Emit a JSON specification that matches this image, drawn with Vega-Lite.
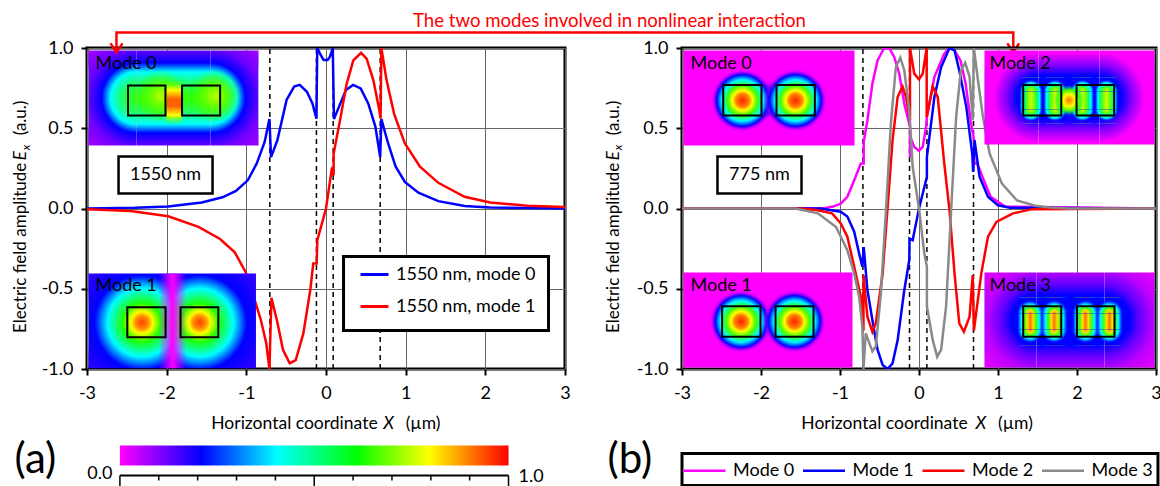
{"$schema":"https://vega.github.io/schema/vega-lite/v6.json","padding":{"left":10,"top":10,"right":0,"bottom":0},"background":"white","bounds":"flush","spacing":117,"resolve":{"scale":{"color":"independent","strokeWidth":"independent"},"legend":{"color":"independent"}},"config":{"font":"Lato","view":{"stroke":"#000","strokeWidth":3},"legend":{"strokeColor":"transparent","fillColor":"transparent","labelFontSize":18,"labelColor":"#000","symbolType":"stroke","symbolStrokeWidth":3,"titleLimit":0,"labelLimit":0},"axis":{"labelFontSize":18,"labelColor":"#000","tickColor":"#000","tickWidth":2,"tickSize":6,"domain":false,"grid":true,"gridColor":"#666","gridWidth":1,"title":null,"labelOverlap":false,"labelFlush":false}},"hconcat":[{"width":478,"height":321,"encoding":{"x":{"field":"x","type":"quantitative","scale":{"domain":[-3,3],"nice":false},"axis":{"values":[-3,-2,-1,0,1,2,3],"labelPadding":9,"format":"d","labelExpr":"replace(datum.label,'−','-')"}},"y":{"field":"y","type":"quantitative","scale":{"domain":[-1,1],"nice":false},"axis":{"values":[-1,-0.5,0,0.5,1],"labelPadding":8,"format":".1f","labelExpr":"replace(datum.label,'−','-')"}}},"layer":[{"data":{"values":[{"x":-0.705,"y":-1,"y2":1},{"x":-0.12,"y":-1,"y2":1},{"x":0.09,"y":-1,"y2":1},{"x":0.68,"y":-1,"y2":1}]},"mark":{"type":"rule","stroke":"#000","strokeWidth":1.5,"strokeDash":[5,4]},"encoding":{"y2":{"field":"y2"}}},{"data":{"values":[{"series":"1550 nm, mode 0","x":-3,"y":0},{"series":"1550 nm, mode 0","x":-2.4,"y":0.004},{"series":"1550 nm, mode 0","x":-1.98,"y":0.012},{"series":"1550 nm, mode 0","x":-1.56,"y":0.037},{"series":"1550 nm, mode 0","x":-1.3,"y":0.07},{"series":"1550 nm, mode 0","x":-1.13,"y":0.11},{"series":"1550 nm, mode 0","x":-0.98,"y":0.177},{"series":"1550 nm, mode 0","x":-0.87,"y":0.28},{"series":"1550 nm, mode 0","x":-0.77,"y":0.415},{"series":"1550 nm, mode 0","x":-0.71,"y":0.557},{"series":"1550 nm, mode 0","x":-0.69,"y":0.32},{"series":"1550 nm, mode 0","x":-0.61,"y":0.426},{"series":"1550 nm, mode 0","x":-0.495,"y":0.676},{"series":"1550 nm, mode 0","x":-0.4,"y":0.76},{"series":"1550 nm, mode 0","x":-0.33,"y":0.77},{"series":"1550 nm, mode 0","x":-0.24,"y":0.727},{"series":"1550 nm, mode 0","x":-0.17,"y":0.655},{"series":"1550 nm, mode 0","x":-0.12,"y":0.56},{"series":"1550 nm, mode 0","x":-0.11,"y":1},{"series":"1550 nm, mode 0","x":-0.077,"y":0.967},{"series":"1550 nm, mode 0","x":-0.03,"y":0.925},{"series":"1550 nm, mode 0","x":0.02,"y":0.925},{"series":"1550 nm, mode 0","x":0.05,"y":0.946},{"series":"1550 nm, mode 0","x":0.085,"y":1},{"series":"1550 nm, mode 0","x":0.1,"y":0.557},{"series":"1550 nm, mode 0","x":0.18,"y":0.655},{"series":"1550 nm, mode 0","x":0.25,"y":0.738},{"series":"1550 nm, mode 0","x":0.34,"y":0.77},{"series":"1550 nm, mode 0","x":0.435,"y":0.748},{"series":"1550 nm, mode 0","x":0.53,"y":0.655},{"series":"1550 nm, mode 0","x":0.62,"y":0.51},{"series":"1550 nm, mode 0","x":0.68,"y":0.32},{"series":"1550 nm, mode 0","x":0.695,"y":0.557},{"series":"1550 nm, mode 0","x":0.78,"y":0.405},{"series":"1550 nm, mode 0","x":0.875,"y":0.26},{"series":"1550 nm, mode 0","x":0.99,"y":0.166},{"series":"1550 nm, mode 0","x":1.16,"y":0.098},{"series":"1550 nm, mode 0","x":1.41,"y":0.046},{"series":"1550 nm, mode 0","x":1.74,"y":0.015},{"series":"1550 nm, mode 0","x":2.06,"y":0.006},{"series":"1550 nm, mode 0","x":3,"y":0},{"series":"1550 nm, mode 1","x":-3,"y":-0.005},{"series":"1550 nm, mode 1","x":-2.45,"y":-0.015},{"series":"1550 nm, mode 1","x":-1.98,"y":-0.048},{"series":"1550 nm, mode 1","x":-1.6,"y":-0.114},{"series":"1550 nm, mode 1","x":-1.33,"y":-0.19},{"series":"1550 nm, mode 1","x":-1.145,"y":-0.273},{"series":"1550 nm, mode 1","x":-1.005,"y":-0.4},{"series":"1550 nm, mode 1","x":-0.91,"y":-0.546},{"series":"1550 nm, mode 1","x":-0.82,"y":-0.69},{"series":"1550 nm, mode 1","x":-0.75,"y":-0.84},{"series":"1550 nm, mode 1","x":-0.71,"y":-1},{"series":"1550 nm, mode 1","x":-0.685,"y":-0.557},{"series":"1550 nm, mode 1","x":-0.61,"y":-0.71},{"series":"1550 nm, mode 1","x":-0.54,"y":-0.88},{"series":"1550 nm, mode 1","x":-0.455,"y":-0.965},{"series":"1550 nm, mode 1","x":-0.38,"y":-0.945},{"series":"1550 nm, mode 1","x":-0.285,"y":-0.78},{"series":"1550 nm, mode 1","x":-0.197,"y":-0.508},{"series":"1550 nm, mode 1","x":-0.16,"y":-0.342},{"series":"1550 nm, mode 1","x":-0.117,"y":-0.342},{"series":"1550 nm, mode 1","x":-0.109,"y":-0.197},{"series":"1550 nm, mode 1","x":0,"y":0},{"series":"1550 nm, mode 1","x":0.07,"y":0.238},{"series":"1550 nm, mode 1","x":0.096,"y":0.207},{"series":"1550 nm, mode 1","x":0.096,"y":0.342},{"series":"1550 nm, mode 1","x":0.176,"y":0.55},{"series":"1550 nm, mode 1","x":0.26,"y":0.778},{"series":"1550 nm, mode 1","x":0.343,"y":0.923},{"series":"1550 nm, mode 1","x":0.44,"y":0.97},{"series":"1550 nm, mode 1","x":0.51,"y":0.934},{"series":"1550 nm, mode 1","x":0.594,"y":0.8},{"series":"1550 nm, mode 1","x":0.67,"y":0.612},{"series":"1550 nm, mode 1","x":0.685,"y":0.56},{"series":"1550 nm, mode 1","x":0.695,"y":1},{"series":"1550 nm, mode 1","x":0.76,"y":0.8},{"series":"1550 nm, mode 1","x":0.855,"y":0.59},{"series":"1550 nm, mode 1","x":0.99,"y":0.405},{"series":"1550 nm, mode 1","x":1.18,"y":0.26},{"series":"1550 nm, mode 1","x":1.41,"y":0.16},{"series":"1550 nm, mode 1","x":1.74,"y":0.073},{"series":"1550 nm, mode 1","x":2.06,"y":0.037},{"series":"1550 nm, mode 1","x":2.53,"y":0.017},{"series":"1550 nm, mode 1","x":3,"y":0.01}]},"mark":{"type":"line","strokeWidth":2.5,"clip":true},"encoding":{"order":{"value":null},"color":{"field":"series","type":"nominal","scale":{"domain":["1550 nm, mode 0","1550 nm, mode 1"],"range":["#0000ff","#ff0000"]},"legend":{"title":null,"orient":"none","legendX":272,"legendY":211,"padding":0,"rowPadding":7,"symbolSize":784,"labelOffset":6}}}},{"data":{"values":[{"x":0.22,"x2":2.793,"y":-0.299,"y2":-0.76}]},"mark":{"type":"rect","fill":"#fff","stroke":"#000","strokeWidth":3},"encoding":{"x2":{"field":"x2"},"y2":{"field":"y2"}}},{"data":{"values":[{"x":-2.981,"x2":-2.377,"y":0.984,"y2":0.393}]},"mark":{"type":"rect","fill":{"gradient":"radial","x1":0.753,"y1":0.5,"r1":0,"x2":0.753,"y2":0.5,"r2":0.75,"stops":[{"offset":0,"color":"#30ff00"},{"offset":0.2,"color":"#20ff60"},{"offset":0.366,"color":"#00ffff"},{"offset":0.49,"color":"#0000ff"},{"offset":0.7,"color":"#7000ff"},{"offset":1,"color":"#b000ff"}]}},"encoding":{"x2":{"field":"x2"},"y2":{"field":"y2"}}},{"data":{"values":[{"x":-1.45,"x2":-0.847,"y":0.984,"y2":0.393}]},"mark":{"type":"rect","fill":{"gradient":"radial","x1":0.247,"y1":0.5,"r1":0,"x2":0.247,"y2":0.5,"r2":0.75,"stops":[{"offset":0,"color":"#30ff00"},{"offset":0.2,"color":"#20ff60"},{"offset":0.366,"color":"#00ffff"},{"offset":0.49,"color":"#0000ff"},{"offset":0.7,"color":"#7000ff"},{"offset":1,"color":"#b000ff"}]}},"encoding":{"x2":{"field":"x2"},"y2":{"field":"y2"}}},{"data":{"values":[{"x":-2.377,"x2":-1.45,"y":0.984,"y2":0.393}]},"mark":{"type":"rect","fill":{"gradient":"linear","x1":0,"y1":0,"x2":0,"y2":1,"stops":[{"offset":0,"color":"#6000ff"},{"offset":0.13,"color":"#0000ff"},{"offset":0.226,"color":"#00ffff"},{"offset":0.353,"color":"#20ff60"},{"offset":0.5,"color":"#30ff00"},{"offset":0.647,"color":"#20ff60"},{"offset":0.774,"color":"#00ffff"},{"offset":0.87,"color":"#0000ff"},{"offset":1,"color":"#6000ff"}]}},"encoding":{"x2":{"field":"x2"},"y2":{"field":"y2"}}},{"data":{"values":[{"x":-2.45,"x2":-1.7,"y":0.93,"y2":0.47},{"x":-1.77,"x2":-1.02,"y":0.93,"y2":0.47}]},"mark":{"type":"rect","fill":{"gradient":"radial","x1":0.5,"y1":0.5,"r1":0,"x2":0.5,"y2":0.5,"r2":0.36,"stops":[{"offset":0,"color":"#b8ff00"},{"offset":0.4,"color":"#60ff00"},{"offset":1,"color":"rgba(48,255,0,0)"}]}},"encoding":{"x2":{"field":"x2"},"y2":{"field":"y2"}}},{"data":{"values":[{"x":-2.0,"x2":-1.81,"y":0.8,"y2":0.52}]},"mark":{"type":"rect","fill":{"gradient":"linear","x1":0,"y1":0,"x2":0,"y2":1,"stops":[{"offset":0,"color":"rgba(48,255,0,0)"},{"offset":0.22,"color":"#ffff00"},{"offset":0.42,"color":"#ff6000"},{"offset":0.58,"color":"#ff6000"},{"offset":0.78,"color":"#ffff00"},{"offset":1,"color":"rgba(48,255,0,0)"}]}},"encoding":{"x2":{"field":"x2"},"y2":{"field":"y2"}}},{"data":{"values":[{"x":-2.981,"x2":-1.927,"y":-0.405,"y2":-0.995}]},"mark":{"type":"rect","fill":{"gradient":"radial","x1":0.621,"y1":0.518,"r1":0,"x2":0.621,"y2":0.518,"r2":1,"stops":[{"offset":0,"color":"#ff4000"},{"offset":0.07,"color":"#ff9000"},{"offset":0.115,"color":"#ffff00"},{"offset":0.2,"color":"#20ff00"},{"offset":0.36,"color":"#00ffff"},{"offset":0.5,"color":"#0000ff"},{"offset":1,"color":"#6000ff"}]}},"encoding":{"x2":{"field":"x2"},"y2":{"field":"y2"}}},{"data":{"values":[{"x":-1.927,"x2":-0.879,"y":-0.405,"y2":-0.995}]},"mark":{"type":"rect","fill":{"gradient":"radial","x1":0.345,"y1":0.518,"r1":0,"x2":0.345,"y2":0.518,"r2":1,"stops":[{"offset":0,"color":"#ff4000"},{"offset":0.07,"color":"#ff9000"},{"offset":0.115,"color":"#ffff00"},{"offset":0.2,"color":"#20ff00"},{"offset":0.36,"color":"#00ffff"},{"offset":0.5,"color":"#0000ff"},{"offset":1,"color":"#6000ff"}]}},"encoding":{"x2":{"field":"x2"},"y2":{"field":"y2"}}},{"data":{"values":[{"x":-2.1,"x2":-1.75,"y":-0.405,"y2":-0.995}]},"mark":{"type":"rect","fill":{"gradient":"linear","x1":0,"y1":0,"x2":1,"y2":0,"stops":[{"offset":0,"color":"rgba(255,0,255,0)"},{"offset":0.5,"color":"#ff00ff"},{"offset":1,"color":"rgba(255,0,255,0)"}]}},"encoding":{"x2":{"field":"x2"},"y2":{"field":"y2"}}},{"data":{"values":[{"x":-2.485,"x2":-2.015,"y":0.766,"y2":0.579},{"x":-1.807,"x2":-1.329,"y":0.766,"y2":0.579},{"x":-2.494,"x2":-2.014,"y":-0.615,"y2":-0.802},{"x":-1.826,"x2":-1.352,"y":-0.615,"y2":-0.802}]},"mark":{"type":"rect","fill":null,"stroke":"#000","strokeWidth":2},"encoding":{"x2":{"field":"x2"},"y2":{"field":"y2"}}},{"data":{"values":[{"x":-2.604,"x2":-1.424,"y":0.324,"y2":0.093}]},"mark":{"type":"rect","fill":"#fff","stroke":"#000","strokeWidth":2.5},"encoding":{"x2":{"field":"x2"},"y2":{"field":"y2"}}},{"data":{"values":[{"x":-2.014,"y":0.209,"text":"1550 nm"}]},"mark":{"type":"text","fontSize":18,"align":"center","baseline":"middle","color":"#000"},"encoding":{"text":{"field":"text"}}},{"data":{"values":[{"x":-2.893,"y":0.903,"text":"Mode 0"},{"x":-2.893,"y":-0.48,"text":"Mode 1"}]},"mark":{"type":"text","fontSize":18,"align":"left","baseline":"middle","color":"#000"},"encoding":{"text":{"field":"text"}}},{"data":{"values":[{"x":-1.44,"y":-1.342,"text":"Horizontal coordinate "},{"x":1.0,"y":-1.342,"text":"(µm)"}]},"mark":{"type":"text","fontSize":17.5,"align":"left","baseline":"middle","color":"#000"},"encoding":{"text":{"field":"text"}}},{"data":{"values":[{"x":0.72,"y":-1.342,"text":"X"}]},"mark":{"type":"text","fontSize":17.5,"fontStyle":"italic","align":"left","baseline":"middle","color":"#000"},"encoding":{"text":{"field":"text"}}},{"data":{"values":[{"x":-3.823,"y":-0.776,"text":"Electric field amplitude "},{"x":-3.823,"y":0.456,"text":"(a.u.)"}]},"mark":{"type":"text","fontSize":17,"angle":270,"align":"left","baseline":"middle","color":"#000"},"encoding":{"text":{"field":"text"}}},{"data":{"values":[{"x":-3.823,"y":0.3,"text":"E"}]},"mark":{"type":"text","fontSize":17,"fontStyle":"italic","angle":270,"align":"left","baseline":"middle","color":"#000"},"encoding":{"text":{"field":"text"}}},{"data":{"values":[{"x":-3.76,"y":0.363,"text":"x"}]},"mark":{"type":"text","fontSize":12,"fontStyle":"italic","angle":270,"align":"left","baseline":"middle","color":"#000"},"encoding":{"text":{"field":"text"}}},{"data":{"values":[{"part":"path","x":-2.63,"y":0.973},{"part":"path","x":-2.63,"y":1.097},{"part":"path","x":8.627,"y":1.097},{"part":"path","x":8.627,"y":0.973},{"part":"headL","x":-2.705,"y":1.029},{"part":"headL","x":-2.63,"y":0.973},{"part":"headL","x":-2.554,"y":1.029},{"part":"headR","x":8.552,"y":1.029},{"part":"headR","x":8.627,"y":0.973},{"part":"headR","x":8.7,"y":1.029}]},"mark":{"type":"line","stroke":"#ff0000","strokeWidth":2.5,"clip":false},"encoding":{"detail":{"field":"part"},"order":{"value":null}}},{"data":{"values":[{"x":3.558,"y":1.171,"text":"The two modes involved in nonlinear interaction"}]},"mark":{"type":"text","fontSize":18.6,"align":"center","baseline":"middle","color":"#ff0000"},"encoding":{"text":{"field":"text"}}},{"data":{"values":[{"x":-2.587,"x2":2.291,"y":-1.477,"y2":-1.601}]},"mark":{"type":"rect","fill":{"gradient":"linear","x1":0,"y1":0,"x2":1,"y2":0,"stops":[{"offset":0,"color":"#ff00ff"},{"offset":0.21,"color":"#0000ff"},{"offset":0.405,"color":"#00ffff"},{"offset":0.61,"color":"#00ff00"},{"offset":0.795,"color":"#ffff00"},{"offset":1,"color":"#ff0000"}]}},"encoding":{"x2":{"field":"x2"},"y2":{"field":"y2"}}},{"data":{"values":[{"x":-2.587,"x2":2.291,"y":-1.664}]},"mark":{"type":"rule","stroke":"#000","strokeWidth":2},"encoding":{"x2":{"field":"x2"}}},{"data":{"values":[{"x":-2.587,"y":-1.664,"y2":-1.73},{"x":-2.099,"y":-1.664,"y2":-1.695},{"x":-1.611,"y":-1.664,"y2":-1.695},{"x":-1.123,"y":-1.664,"y2":-1.695},{"x":-0.635,"y":-1.664,"y2":-1.695},{"x":-0.148,"y":-1.664,"y2":-1.73},{"x":0.34,"y":-1.664,"y2":-1.695},{"x":0.828,"y":-1.664,"y2":-1.695},{"x":1.316,"y":-1.664,"y2":-1.695},{"x":1.803,"y":-1.664,"y2":-1.695},{"x":2.291,"y":-1.664,"y2":-1.73}]},"mark":{"type":"rule","stroke":"#000","strokeWidth":1.5},"encoding":{"y2":{"field":"y2"}}},{"data":{"values":[{"x":-2.68,"y":-1.657,"text":"0.0"}]},"mark":{"type":"text","fontSize":18,"align":"right","baseline":"middle","color":"#000"},"encoding":{"text":{"field":"text"}}},{"data":{"values":[{"x":2.416,"y":-1.67,"text":"1.0"}]},"mark":{"type":"text","fontSize":18,"align":"left","baseline":"middle","color":"#000"},"encoding":{"text":{"field":"text"}}},{"data":{"values":[{"x":-3.91,"y":-1.57,"text":"(a)"}]},"mark":{"type":"text","fontSize":42,"align":"left","baseline":"middle","color":"#000"},"encoding":{"text":{"field":"text"}}}]},{"width":474,"height":321,"encoding":{"x":{"field":"x","type":"quantitative","scale":{"domain":[-3,3],"nice":false},"axis":{"values":[-3,-2,-1,0,1,2,3],"labelPadding":9,"format":"d","labelExpr":"replace(datum.label,'−','-')"}},"y":{"field":"y","type":"quantitative","scale":{"domain":[-1,1],"nice":false},"axis":{"values":[-1,-0.5,0,0.5,1],"labelPadding":8,"format":".1f","labelExpr":"replace(datum.label,'−','-')"}}},"layer":[{"data":{"values":[{"x":-0.71,"y":-1,"y2":1},{"x":-0.12,"y":-1,"y2":1},{"x":0.1,"y":-1,"y2":1},{"x":0.69,"y":-1,"y2":1}]},"mark":{"type":"rule","stroke":"#000","strokeWidth":1.5,"strokeDash":[5,4]},"encoding":{"y2":{"field":"y2"}}},{"data":{"values":[{"series":"Mode 0","x":-3,"y":0},{"series":"Mode 0","x":-1.2,"y":0.002},{"series":"Mode 0","x":-1.09,"y":0.012},{"series":"Mode 0","x":-0.99,"y":0.03},{"series":"Mode 0","x":-0.907,"y":0.073},{"series":"Mode 0","x":-0.82,"y":0.176},{"series":"Mode 0","x":-0.737,"y":0.28},{"series":"Mode 0","x":-0.7,"y":0.28},{"series":"Mode 0","x":-0.7,"y":0.415},{"series":"Mode 0","x":-0.653,"y":0.55},{"series":"Mode 0","x":-0.59,"y":0.778},{"series":"Mode 0","x":-0.525,"y":0.923},{"series":"Mode 0","x":-0.44,"y":1},{"series":"Mode 0","x":-0.377,"y":1},{"series":"Mode 0","x":-0.314,"y":0.944},{"series":"Mode 0","x":-0.25,"y":0.84},{"series":"Mode 0","x":-0.186,"y":0.653},{"series":"Mode 0","x":-0.114,"y":0.508},{"series":"Mode 0","x":-0.114,"y":0.32},{"series":"Mode 0","x":-0.11,"y":0.446},{"series":"Mode 0","x":-0.06,"y":0.384},{"series":"Mode 0","x":0,"y":0.36},{"series":"Mode 0","x":0.047,"y":0.384},{"series":"Mode 0","x":0.09,"y":0.51},{"series":"Mode 0","x":0.1,"y":0.57},{"series":"Mode 0","x":0.195,"y":0.82},{"series":"Mode 0","x":0.32,"y":0.965},{"series":"Mode 0","x":0.386,"y":1},{"series":"Mode 0","x":0.45,"y":0.985},{"series":"Mode 0","x":0.525,"y":0.923},{"series":"Mode 0","x":0.59,"y":0.778},{"series":"Mode 0","x":0.653,"y":0.55},{"series":"Mode 0","x":0.7,"y":0.415},{"series":"Mode 0","x":0.7,"y":0.28},{"series":"Mode 0","x":0.737,"y":0.28},{"series":"Mode 0","x":0.82,"y":0.176},{"series":"Mode 0","x":0.907,"y":0.073},{"series":"Mode 0","x":1.09,"y":0.012},{"series":"Mode 0","x":3,"y":0},{"series":"Mode 1","x":-3,"y":0},{"series":"Mode 1","x":-1.25,"y":0},{"series":"Mode 1","x":-0.99,"y":-0.02},{"series":"Mode 1","x":-0.907,"y":-0.05},{"series":"Mode 1","x":-0.82,"y":-0.145},{"series":"Mode 1","x":-0.758,"y":-0.28},{"series":"Mode 1","x":-0.717,"y":-0.363},{"series":"Mode 1","x":-0.7,"y":-0.24},{"series":"Mode 1","x":-0.653,"y":-0.508},{"series":"Mode 1","x":-0.59,"y":-0.695},{"series":"Mode 1","x":-0.525,"y":-0.88},{"series":"Mode 1","x":-0.46,"y":-0.975},{"series":"Mode 1","x":-0.398,"y":-1},{"series":"Mode 1","x":-0.335,"y":-0.965},{"series":"Mode 1","x":-0.27,"y":-0.82},{"series":"Mode 1","x":-0.186,"y":-0.508},{"series":"Mode 1","x":-0.123,"y":-0.32},{"series":"Mode 1","x":-0.12,"y":-0.187},{"series":"Mode 1","x":-0.08,"y":-0.197},{"series":"Mode 1","x":0,"y":0},{"series":"Mode 1","x":0.1,"y":0.197},{"series":"Mode 1","x":0.1,"y":0.32},{"series":"Mode 1","x":0.195,"y":0.695},{"series":"Mode 1","x":0.28,"y":0.88},{"series":"Mode 1","x":0.386,"y":1},{"series":"Mode 1","x":0.45,"y":0.985},{"series":"Mode 1","x":0.51,"y":0.86},{"series":"Mode 1","x":0.6,"y":0.63},{"series":"Mode 1","x":0.674,"y":0.34},{"series":"Mode 1","x":0.686,"y":0.228},{"series":"Mode 1","x":0.703,"y":0.425},{"series":"Mode 1","x":0.767,"y":0.197},{"series":"Mode 1","x":0.873,"y":0.073},{"series":"Mode 1","x":1,"y":0.02},{"series":"Mode 1","x":1.15,"y":0.005},{"series":"Mode 1","x":3,"y":0},{"series":"Mode 2","x":-3,"y":0},{"series":"Mode 2","x":-1.5,"y":0},{"series":"Mode 2","x":-1.3,"y":-0.01},{"series":"Mode 2","x":-1.1,"y":-0.03},{"series":"Mode 2","x":-0.99,"y":-0.093},{"series":"Mode 2","x":-0.907,"y":-0.176},{"series":"Mode 2","x":-0.82,"y":-0.363},{"series":"Mode 2","x":-0.737,"y":-0.55},{"series":"Mode 2","x":-0.703,"y":-0.76},{"series":"Mode 2","x":-0.703,"y":-0.415},{"series":"Mode 2","x":-0.653,"y":-0.674},{"series":"Mode 2","x":-0.59,"y":-0.768},{"series":"Mode 2","x":-0.547,"y":-0.716},{"series":"Mode 2","x":-0.46,"y":-0.405},{"series":"Mode 2","x":-0.4,"y":-0.01},{"series":"Mode 2","x":-0.335,"y":0.425},{"series":"Mode 2","x":-0.27,"y":0.695},{"series":"Mode 2","x":-0.208,"y":0.76},{"series":"Mode 2","x":-0.165,"y":0.695},{"series":"Mode 2","x":-0.114,"y":0.55},{"series":"Mode 2","x":-0.114,"y":1},{"series":"Mode 2","x":-0.06,"y":0.84},{"series":"Mode 2","x":0,"y":0.805},{"series":"Mode 2","x":0.047,"y":0.84},{"series":"Mode 2","x":0.097,"y":1},{"series":"Mode 2","x":0.097,"y":0.57},{"series":"Mode 2","x":0.174,"y":0.76},{"series":"Mode 2","x":0.237,"y":0.695},{"series":"Mode 2","x":0.32,"y":0.28},{"series":"Mode 2","x":0.386,"y":-0.01},{"series":"Mode 2","x":0.45,"y":-0.405},{"series":"Mode 2","x":0.51,"y":-0.716},{"series":"Mode 2","x":0.568,"y":-0.768},{"series":"Mode 2","x":0.64,"y":-0.674},{"series":"Mode 2","x":0.68,"y":-0.415},{"series":"Mode 2","x":0.695,"y":-0.76},{"series":"Mode 2","x":0.79,"y":-0.4},{"series":"Mode 2","x":0.873,"y":-0.176},{"series":"Mode 2","x":0.98,"y":-0.083},{"series":"Mode 2","x":1.19,"y":-0.03},{"series":"Mode 2","x":1.43,"y":-0.004},{"series":"Mode 2","x":3,"y":0},{"series":"Mode 3","x":-3,"y":0},{"series":"Mode 3","x":-1.56,"y":0},{"series":"Mode 3","x":-1.28,"y":-0.03},{"series":"Mode 3","x":-1.05,"y":-0.115},{"series":"Mode 3","x":-0.99,"y":-0.176},{"series":"Mode 3","x":-0.907,"y":-0.26},{"series":"Mode 3","x":-0.82,"y":-0.405},{"series":"Mode 3","x":-0.758,"y":-0.55},{"series":"Mode 3","x":-0.717,"y":-0.737},{"series":"Mode 3","x":-0.703,"y":-1},{"series":"Mode 3","x":-0.674,"y":-0.778},{"series":"Mode 3","x":-0.59,"y":-0.89},{"series":"Mode 3","x":-0.547,"y":-0.86},{"series":"Mode 3","x":-0.483,"y":-0.53},{"series":"Mode 3","x":-0.42,"y":-0.03},{"series":"Mode 3","x":-0.356,"y":0.53},{"series":"Mode 3","x":-0.293,"y":0.88},{"series":"Mode 3","x":-0.237,"y":0.94},{"series":"Mode 3","x":-0.186,"y":0.86},{"series":"Mode 3","x":-0.123,"y":0.61},{"series":"Mode 3","x":-0.08,"y":0.26},{"series":"Mode 3","x":0,"y":0},{"series":"Mode 3","x":0.068,"y":-0.28},{"series":"Mode 3","x":0.1,"y":-0.363},{"series":"Mode 3","x":0.1,"y":-0.61},{"series":"Mode 3","x":0.174,"y":-0.82},{"series":"Mode 3","x":0.23,"y":-0.923},{"series":"Mode 3","x":0.28,"y":-0.88},{"series":"Mode 3","x":0.343,"y":-0.61},{"series":"Mode 3","x":0.407,"y":-0.01},{"series":"Mode 3","x":0.47,"y":0.57},{"series":"Mode 3","x":0.53,"y":0.86},{"series":"Mode 3","x":0.585,"y":0.907},{"series":"Mode 3","x":0.64,"y":0.82},{"series":"Mode 3","x":0.68,"y":0.55},{"series":"Mode 3","x":0.695,"y":1},{"series":"Mode 3","x":0.746,"y":0.8},{"series":"Mode 3","x":0.81,"y":0.57},{"series":"Mode 3","x":0.894,"y":0.342},{"series":"Mode 3","x":1.05,"y":0.155},{"series":"Mode 3","x":1.24,"y":0.05},{"series":"Mode 3","x":1.47,"y":0.017},{"series":"Mode 3","x":1.66,"y":0.006},{"series":"Mode 3","x":1.9,"y":0},{"series":"Mode 3","x":3,"y":0}]},"mark":{"type":"line","clip":true},"encoding":{"order":{"value":null},"color":{"field":"series","type":"nominal","scale":{"domain":["Mode 0","Mode 1","Mode 2","Mode 3"],"range":["#ff00ff","#0000ff","#ff0000","#8a8a8a"]},"legend":{"title":null,"orient":"none","legendX":0,"legendY":400,"direction":"horizontal","columns":4,"padding":0,"columnPadding":2.5,"symbolSize":1764,"labelOffset":6}},"strokeWidth":{"field":"series","type":"nominal","scale":{"domain":["Mode 0","Mode 1","Mode 2","Mode 3"],"range":[2.5,2.5,2.5,4]},"legend":null}}},{"data":{"values":[{"x":-3,"x2":3.025,"y":-1.526,"y2":-1.726}]},"mark":{"type":"rect","fill":"#fff","stroke":"#000","strokeWidth":3},"encoding":{"x2":{"field":"x2"},"y2":{"field":"y2"}}},{"data":{"values":[{"x":-2.981,"x2":-0.816,"y":0.984,"y2":0.393},{"x":-2.981,"x2":-0.842,"y":-0.399,"y2":-0.991}]},"mark":{"type":"rect","fill":"#ff00ff"},"encoding":{"x2":{"field":"x2"},"y2":{"field":"y2"}}},{"data":{"values":[{"x":-2.057,"x2":-1.741,"y":0.798,"y2":0.548}]},"mark":{"type":"rect","fill":{"gradient":"radial","x1":0.5,"y1":0.5,"r1":0,"x2":0.5,"y2":0.5,"r2":0.5,"stops":[{"offset":0,"color":"#0000ff"},{"offset":0.6,"color":"#2000ff"},{"offset":1,"color":"rgba(255,0,255,0)"}]}},"encoding":{"x2":{"field":"x2"},"y2":{"field":"y2"}}},{"data":{"values":[{"x":-2.652,"x2":-1.816,"y":0.879,"y2":0.467},{"x":-1.981,"x2":-1.146,"y":0.879,"y2":0.467},{"x":-2.671,"x2":-1.835,"y":-0.498,"y2":-0.91},{"x":-1.994,"x2":-1.158,"y":-0.498,"y2":-0.91}]},"mark":{"type":"rect","fill":{"gradient":"radial","x1":0.5,"y1":0.5,"r1":0,"x2":0.5,"y2":0.5,"r2":0.5,"stops":[{"offset":0,"color":"#ff2000"},{"offset":0.2,"color":"#ff8000"},{"offset":0.3,"color":"#ffff00"},{"offset":0.45,"color":"#40ff00"},{"offset":0.62,"color":"#00ffff"},{"offset":0.78,"color":"#0000ff"},{"offset":0.95,"color":"rgba(255,0,255,0)"},{"offset":1,"color":"rgba(255,0,255,0)"}]}},"encoding":{"x2":{"field":"x2"},"y2":{"field":"y2"}}},{"data":{"values":[{"x":0.829,"x2":1.513,"y":0.984,"y2":0.399}]},"mark":{"type":"rect","fill":{"gradient":"radial","x1":0.787,"y1":0.5,"r1":0,"x2":0.787,"y2":0.5,"r2":0.85,"stops":[{"offset":0,"color":"#0000ff"},{"offset":0.275,"color":"#0000ff"},{"offset":0.4,"color":"#8000ff"},{"offset":0.5625,"color":"#ff00ff"},{"offset":1,"color":"#ff00ff"}]}},"encoding":{"x2":{"field":"x2"},"y2":{"field":"y2"}}},{"data":{"values":[{"x":2.285,"x2":2.981,"y":0.984,"y2":0.399}]},"mark":{"type":"rect","fill":{"gradient":"radial","x1":0.207,"y1":0.5,"r1":0,"x2":0.207,"y2":0.5,"r2":0.85,"stops":[{"offset":0,"color":"#0000ff"},{"offset":0.275,"color":"#0000ff"},{"offset":0.4,"color":"#8000ff"},{"offset":0.5625,"color":"#ff00ff"},{"offset":1,"color":"#ff00ff"}]}},"encoding":{"x2":{"field":"x2"},"y2":{"field":"y2"}}},{"data":{"values":[{"x":1.513,"x2":2.285,"y":0.984,"y2":0.399}]},"mark":{"type":"rect","fill":{"gradient":"linear","x1":0,"y1":0,"x2":0,"y2":1,"stops":[{"offset":0,"color":"#ff00ff"},{"offset":0.02,"color":"#ff00ff"},{"offset":0.16,"color":"#8000ff"},{"offset":0.266,"color":"#0000ff"},{"offset":0.734,"color":"#0000ff"},{"offset":0.84,"color":"#8000ff"},{"offset":0.98,"color":"#ff00ff"},{"offset":1,"color":"#ff00ff"}]}},"encoding":{"x2":{"field":"x2"},"y2":{"field":"y2"}}},{"data":{"values":[{"x":1.241,"x2":1.595,"y":0.729,"y2":0.617},{"x":1.544,"x2":1.899,"y":0.729,"y2":0.617},{"x":1.892,"x2":2.247,"y":0.729,"y2":0.617},{"x":2.196,"x2":2.551,"y":0.729,"y2":0.617}]},"mark":{"type":"rect","fill":{"gradient":"linear","x1":0,"y1":0,"x2":1,"y2":0,"stops":[{"offset":0,"color":"rgba(0,128,255,0)"},{"offset":0.09,"color":"rgba(0,128,255,0)"},{"offset":0.19,"color":"#00ffff"},{"offset":0.275,"color":"#00ff80"},{"offset":0.375,"color":"#70ff00"},{"offset":0.5,"color":"#c8ff00"},{"offset":0.625,"color":"#70ff00"},{"offset":0.725,"color":"#00ff80"},{"offset":0.81,"color":"#00ffff"},{"offset":0.91,"color":"rgba(0,128,255,0)"},{"offset":1,"color":"rgba(0,128,255,0)"}]}},"encoding":{"x2":{"field":"x2"},"y2":{"field":"y2"}}},{"data":{"values":[{"x":1.241,"x2":1.595,"y":0.816,"y2":0.729},{"x":1.544,"x2":1.899,"y":0.816,"y2":0.729},{"x":1.892,"x2":2.247,"y":0.816,"y2":0.729},{"x":2.196,"x2":2.551,"y":0.816,"y2":0.729}]},"mark":{"type":"rect","fill":{"gradient":"radial","x1":0.5,"y1":0.75,"r1":0,"x2":0.5,"y2":0.75,"r2":0.5,"stops":[{"offset":0,"color":"#c8ff00"},{"offset":0.25,"color":"#70ff00"},{"offset":0.45,"color":"#00ff80"},{"offset":0.62,"color":"#00ffff"},{"offset":0.82,"color":"rgba(0,128,255,0)"},{"offset":1,"color":"rgba(0,128,255,0)"}]}},"encoding":{"x2":{"field":"x2"},"y2":{"field":"y2"}}},{"data":{"values":[{"x":1.241,"x2":1.595,"y":0.617,"y2":0.53},{"x":1.544,"x2":1.899,"y":0.617,"y2":0.53},{"x":1.892,"x2":2.247,"y":0.617,"y2":0.53},{"x":2.196,"x2":2.551,"y":0.617,"y2":0.53}]},"mark":{"type":"rect","fill":{"gradient":"radial","x1":0.5,"y1":0.25,"r1":0,"x2":0.5,"y2":0.25,"r2":0.5,"stops":[{"offset":0,"color":"#c8ff00"},{"offset":0.25,"color":"#70ff00"},{"offset":0.45,"color":"#00ff80"},{"offset":0.62,"color":"#00ffff"},{"offset":0.82,"color":"rgba(0,128,255,0)"},{"offset":1,"color":"rgba(0,128,255,0)"}]}},"encoding":{"x2":{"field":"x2"},"y2":{"field":"y2"}}},{"data":{"values":[{"x":1.71,"x2":2.09,"y":0.767,"y2":0.58}]},"mark":{"type":"rect","fill":{"gradient":"radial","x1":0.5,"y1":0.5,"r1":0,"x2":0.5,"y2":0.5,"r2":0.5,"stops":[{"offset":0,"color":"#ff7000"},{"offset":0.4,"color":"#ffff00"},{"offset":0.7,"color":"#40ff00"},{"offset":1,"color":"rgba(0,255,128,0)"}]}},"encoding":{"x2":{"field":"x2"},"y2":{"field":"y2"}}},{"data":{"values":[{"x":0.829,"x2":1.488,"y":-0.399,"y2":-0.991}]},"mark":{"type":"rect","fill":{"gradient":"radial","x1":0.774,"y1":0.5,"r1":0,"x2":0.774,"y2":0.5,"r2":0.85,"stops":[{"offset":0,"color":"#0000ff"},{"offset":0.31,"color":"#0000ff"},{"offset":0.43,"color":"#6000ff"},{"offset":0.62,"color":"#c000ff"},{"offset":1,"color":"#ff00ff"}]}},"encoding":{"x2":{"field":"x2"},"y2":{"field":"y2"}}},{"data":{"values":[{"x":2.349,"x2":2.981,"y":-0.399,"y2":-0.991}]},"mark":{"type":"rect","fill":{"gradient":"radial","x1":0.237,"y1":0.5,"r1":0,"x2":0.237,"y2":0.5,"r2":0.85,"stops":[{"offset":0,"color":"#0000ff"},{"offset":0.31,"color":"#0000ff"},{"offset":0.43,"color":"#6000ff"},{"offset":0.62,"color":"#c000ff"},{"offset":1,"color":"#ff00ff"}]}},"encoding":{"x2":{"field":"x2"},"y2":{"field":"y2"}}},{"data":{"values":[{"x":1.488,"x2":2.349,"y":-0.399,"y2":-0.991}]},"mark":{"type":"rect","fill":{"gradient":"linear","x1":0,"y1":0,"x2":0,"y2":1,"stops":[{"offset":0,"color":"#b000ff"},{"offset":0.13,"color":"#6000ff"},{"offset":0.237,"color":"#0000ff"},{"offset":0.763,"color":"#0000ff"},{"offset":0.87,"color":"#6000ff"},{"offset":1,"color":"#b000ff"}]}},"encoding":{"x2":{"field":"x2"},"y2":{"field":"y2"}}},{"data":{"values":[{"x":1.206,"x2":1.611,"y":-0.654,"y2":-0.754},{"x":1.51,"x2":1.915,"y":-0.654,"y2":-0.754},{"x":1.905,"x2":2.31,"y":-0.654,"y2":-0.754},{"x":2.209,"x2":2.614,"y":-0.654,"y2":-0.754}]},"mark":{"type":"rect","fill":{"gradient":"linear","x1":0,"y1":0,"x2":1,"y2":0,"stops":[{"offset":0,"color":"rgba(0,0,255,0)"},{"offset":0.075,"color":"rgba(0,0,255,0)"},{"offset":0.15,"color":"#0060ff"},{"offset":0.225,"color":"#00ffff"},{"offset":0.32,"color":"#40ff00"},{"offset":0.41,"color":"#ffe000"},{"offset":0.5,"color":"#ff7000"},{"offset":0.59,"color":"#ffe000"},{"offset":0.68,"color":"#40ff00"},{"offset":0.775,"color":"#00ffff"},{"offset":0.85,"color":"#0060ff"},{"offset":0.925,"color":"rgba(0,0,255,0)"},{"offset":1,"color":"rgba(0,0,255,0)"}]}},"encoding":{"x2":{"field":"x2"},"y2":{"field":"y2"}}},{"data":{"values":[{"x":1.206,"x2":1.611,"y":-0.555,"y2":-0.654},{"x":1.51,"x2":1.915,"y":-0.555,"y2":-0.654},{"x":1.905,"x2":2.31,"y":-0.555,"y2":-0.654},{"x":2.209,"x2":2.614,"y":-0.555,"y2":-0.654}]},"mark":{"type":"rect","fill":{"gradient":"radial","x1":0.5,"y1":0.75,"r1":0,"x2":0.5,"y2":0.75,"r2":0.5,"stops":[{"offset":0,"color":"#ff7000"},{"offset":0.18,"color":"#ffe000"},{"offset":0.36,"color":"#40ff00"},{"offset":0.55,"color":"#00ffff"},{"offset":0.7,"color":"#0060ff"},{"offset":0.85,"color":"rgba(0,0,255,0)"},{"offset":1,"color":"rgba(0,0,255,0)"}]}},"encoding":{"x2":{"field":"x2"},"y2":{"field":"y2"}}},{"data":{"values":[{"x":1.206,"x2":1.611,"y":-0.754,"y2":-0.854},{"x":1.51,"x2":1.915,"y":-0.754,"y2":-0.854},{"x":1.905,"x2":2.31,"y":-0.754,"y2":-0.854},{"x":2.209,"x2":2.614,"y":-0.754,"y2":-0.854}]},"mark":{"type":"rect","fill":{"gradient":"radial","x1":0.5,"y1":0.25,"r1":0,"x2":0.5,"y2":0.25,"r2":0.5,"stops":[{"offset":0,"color":"#ff7000"},{"offset":0.18,"color":"#ffe000"},{"offset":0.36,"color":"#40ff00"},{"offset":0.55,"color":"#00ffff"},{"offset":0.7,"color":"#0060ff"},{"offset":0.85,"color":"rgba(0,0,255,0)"},{"offset":1,"color":"rgba(0,0,255,0)"}]}},"encoding":{"x2":{"field":"x2"},"y2":{"field":"y2"}}},{"data":{"values":[{"x":-2.478,"x2":-1.994,"y":0.769,"y2":0.579},{"x":-1.804,"x2":-1.318,"y":0.769,"y2":0.579},{"x":-2.492,"x2":-2.006,"y":-0.609,"y2":-0.799},{"x":-1.816,"x2":-1.335,"y":-0.609,"y2":-0.799},{"x":1.319,"x2":1.801,"y":0.769,"y2":0.579},{"x":1.994,"x2":2.471,"y":0.769,"y2":0.579},{"x":1.319,"x2":1.801,"y":-0.609,"y2":-0.799},{"x":2.0,"x2":2.475,"y":-0.609,"y2":-0.799}]},"mark":{"type":"rect","fill":null,"stroke":"#000","strokeWidth":2},"encoding":{"x2":{"field":"x2"},"y2":{"field":"y2"}}},{"data":{"values":[{"x":-2.551,"x2":-1.487,"y":0.324,"y2":0.093}]},"mark":{"type":"rect","fill":"#fff","stroke":"#000","strokeWidth":2.5},"encoding":{"x2":{"field":"x2"},"y2":{"field":"y2"}}},{"data":{"values":[{"x":-2.019,"y":0.209,"text":"775 nm"}]},"mark":{"type":"text","fontSize":18,"align":"center","baseline":"middle","color":"#000"},"encoding":{"text":{"field":"text"}}},{"data":{"values":[{"x":-2.892,"y":0.903,"text":"Mode 0"},{"x":-2.892,"y":-0.48,"text":"Mode 1"},{"x":0.892,"y":0.903,"text":"Mode 2"},{"x":0.892,"y":-0.48,"text":"Mode 3"}]},"mark":{"type":"text","fontSize":18,"align":"left","baseline":"middle","color":"#000"},"encoding":{"text":{"field":"text"}}},{"data":{"values":[{"x":-1.49,"y":-1.342,"text":"Horizontal coordinate "},{"x":1.0,"y":-1.342,"text":"(µm)"}]},"mark":{"type":"text","fontSize":17.5,"align":"left","baseline":"middle","color":"#000"},"encoding":{"text":{"field":"text"}}},{"data":{"values":[{"x":0.715,"y":-1.342,"text":"X"}]},"mark":{"type":"text","fontSize":17.5,"fontStyle":"italic","align":"left","baseline":"middle","color":"#000"},"encoding":{"text":{"field":"text"}}},{"data":{"values":[{"x":-3.867,"y":-0.776,"text":"Electric field amplitude "},{"x":-3.867,"y":0.456,"text":"(a.u.)"}]},"mark":{"type":"text","fontSize":17,"angle":270,"align":"left","baseline":"middle","color":"#000"},"encoding":{"text":{"field":"text"}}},{"data":{"values":[{"x":-3.867,"y":0.3,"text":"E"}]},"mark":{"type":"text","fontSize":17,"fontStyle":"italic","angle":270,"align":"left","baseline":"middle","color":"#000"},"encoding":{"text":{"field":"text"}}},{"data":{"values":[{"x":-3.805,"y":0.363,"text":"x"}]},"mark":{"type":"text","fontSize":12,"fontStyle":"italic","angle":270,"align":"left","baseline":"middle","color":"#000"},"encoding":{"text":{"field":"text"}}},{"data":{"values":[{"x":-3.943,"y":-1.57,"text":"(b)"}]},"mark":{"type":"text","fontSize":42,"align":"left","baseline":"middle","color":"#000"},"encoding":{"text":{"field":"text"}}}]}]}
